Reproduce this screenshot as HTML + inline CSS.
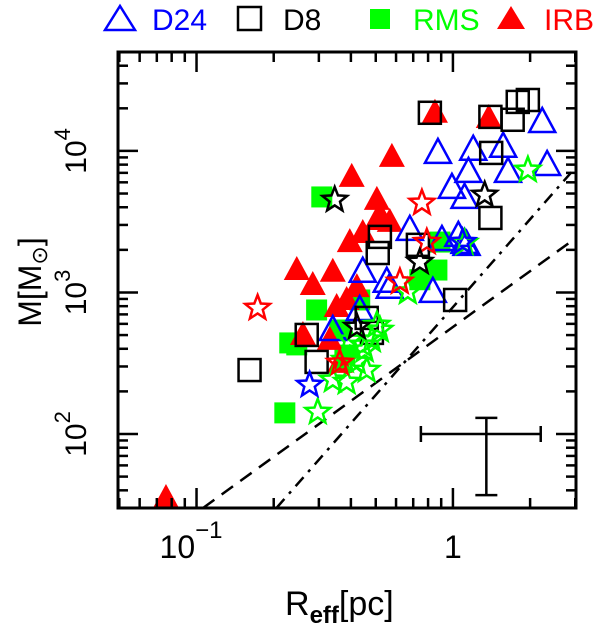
<!DOCTYPE html>
<html><head><meta charset="utf-8"><style>
body{margin:0;background:#fff;}
svg{display:block;font-family:"Liberation Sans",sans-serif;}
</style></head><body>
<svg id="chart" width="600" height="630" viewBox="0 0 600 630" xmlns="http://www.w3.org/2000/svg">
<defs><clipPath id="clip"><rect x="118" y="52" width="458" height="456"/></clipPath></defs>
<g id="legend">
  <g>
    <polygon points="105,30 120,6 135,30" fill="none" stroke="#0000ff" stroke-width="2.5"/>
    <text x="152" y="30" font-size="30" fill="#0000ff">D24</text>
  </g>
  <g>
    <rect x="238" y="7" width="23" height="23" fill="none" stroke="#000" stroke-width="2.5"/>
    <text x="283" y="30" font-size="30" fill="#000">D8</text>
  </g>
  <g>
    <rect x="370" y="9" width="20" height="20" fill="#00ff00"/>
    <text x="413" y="30" font-size="30" fill="#00ff00">RMS</text>
  </g>
  <g>
    <polygon points="497,29 511,6 525,29" fill="#ff0000"/>
    <text x="544" y="30" font-size="30" fill="#ff0000">IRB</text>
  </g>
</g>
<g id="marks" clip-path="url(#clip)"></g>
<g id="axes"></g>
<text x="285" y="615" font-size="34">R<tspan font-size="24" dy="8" font-weight="bold">eff</tspan><tspan dy="-8">[pc]</tspan></text>
<text transform="translate(41,282) rotate(-90)" text-anchor="middle" font-size="32">M[M<tspan font-size="22" dy="6">⊙</tspan><tspan dy="-6">]</tspan></text>
</svg>
<script>
// axis ranges
const xMin = 0.0494, xMax = 3.02, yMin = 30, yMax = 50000;
// D24 (blue open triangles)
const d24R = [0.874,1.20,1.57,2.23,2.33,1.64,1.15,0.991,1.11,0.679,0.906,1.05,1.13,0.445,0.835,1.11,0.567,0.340,0.433,0.552];
const d24M = [9680,10200,10700,16000,7960,7110,7110,5480,4660,2770,2350,2510,2170,1400,1010,2240,1080,543,752,1190];
const d24StarR = [0.276,1.09];
const d24StarM = [222,2270];
// D8 (black open squares)
const d8R = [0.813,1.40,1.71,1.79,1.96,1.41,1.40,0.509,0.519,0.730,1.02,0.269,0.294,0.461,0.483,0.161];
const d8M = [18600,17400,16600,22200,22900,9680,3360,1900,2470,2170,885,501,323,661,518,283];
const d8StarR = [0.346,0.743,1.33,0.422];
const d8StarM = [4510,1640,4890,570];
// RMS (green filled squares)
const rmsR = [0.308,0.294,0.246,0.221,0.231,0.866,0.890,0.743,0.379,0.433,0.362];
const rmsM = [4730,752,426,141,440,1440,2270,1230,361,885,543];
const rmsStarR = [0.297,0.385,0.340,0.396,0.453,0.483,0.519,0.422,0.461,0.379,0.667,1.96,0.505,1.11,0.445];
const rmsStarM = [143,233,241,462,393,462,543,323,283,333,1010,7340,589,2240,426];
// IRB (red filled triangles)
const irbR = [0.851,1.38,0.578,0.403,0.505,0.519,0.567,0.445,0.396,0.246,0.284,0.340,0.422,0.505,0.352,0.385,0.260,0.331,0.362,0.076];
const irbM = [18600,17100,9080,6550,4510,3530,3150,2630,2270,1440,1130,1400,1090,3250,790,885,501,462,318,35.3];
const irbStarR = [0.173,0.757,0.791,0.621,0.362];
const irbStarM = [777,4290,2270,1190,318];
// reference lines (endpoints)
const dashR = [0.106,3.02], dashM = [30,2430];
const dotDashR = [0.205,3.02], dotDashM = [30,7700];
// error bar (center and extents)
const errR = [0.75,1.35,2.2], errM = [37,100,130];

const L=118,R=576,T=52,B=508;
const X = v => L + (Math.log10(v)-Math.log10(xMin))/(Math.log10(xMax)-Math.log10(xMin))*(R-L);
const Y = v => B - (Math.log10(v)-Math.log10(yMin))/(Math.log10(yMax)-Math.log10(yMin))*(B-T);
const NS='http://www.w3.org/2000/svg';
const marks=document.getElementById('marks'), axes=document.getElementById('axes');
function mk(tag, parent, attrs){const e=document.createElementNS(NS,tag);for(const k in attrs)e.setAttribute(k,attrs[k]);parent.appendChild(e);return e;}

// reference lines
let ln=mk('line',marks,{x1:X(dashR[0]),y1:Y(dashM[0]),x2:X(dashR[1]),y2:Y(dashM[1]),stroke:'#000','stroke-width':2.5,'stroke-dasharray':'14,9'});


ln=mk('line',marks,{x1:X(dotDashR[0]),y1:Y(dotDashM[0]),x2:X(dotDashR[1]),y2:Y(dotDashM[1]),stroke:'#000','stroke-width':2.5,'stroke-dasharray':'12,7,3,7'});



function tri(cx,cy,color,fill,name){
  const h=12,w=13;
  const p=mk('polygon',marks,{points:`${cx-w},${cy+h-2} ${cx},${cy-h-2} ${cx+w},${cy+h-2}`,fill:fill?color:'none',stroke:color,'stroke-width':fill?0:2.5});
  
  
}
function sq(cx,cy,color,fill,name,s){
  const r=mk('rect',marks,{x:cx-s/2,y:cy-s/2,width:s,height:s,fill:fill?color:'none',stroke:fill?'none':color,'stroke-width':2.5});
  
  
}
function star(cx,cy,color,name){
  let pts=[];for(let i=0;i<10;i++){const a=-Math.PI/2+i*Math.PI/5;const r=i%2?5.5:13;pts.push((cx+r*Math.cos(a)).toFixed(1)+','+(cy+r*Math.sin(a)).toFixed(1));}
  const p=mk('polygon',marks,{points:pts.join(' '),fill:'none',stroke:color,'stroke-width':2.5});
  
  
}
rmsR.forEach((r,i)=>sq(X(r),Y(rmsM[i]),'#00ff00',true,'rms-point',21));
irbR.forEach((r,i)=>tri(X(r),Y(irbM[i]),'#ff0000',true,'irb-point'));
d24R.forEach((r,i)=>tri(X(r),Y(d24M[i]),'#0000ff',false,'d24-point'));
d8R.forEach((r,i)=>sq(X(r),Y(d8M[i]),'#000',false,'d8-point',22));
rmsStarR.forEach((r,i)=>star(X(r),Y(rmsStarM[i]),'#00ff00','rms-star'));
d24StarR.forEach((r,i)=>star(X(r),Y(d24StarM[i]),'#0000ff','d24-star'));
irbStarR.forEach((r,i)=>star(X(r),Y(irbStarM[i]),'#ff0000','irb-star'));
d8StarR.forEach((r,i)=>star(X(r),Y(d8StarM[i]),'#000','d8-star'));

// error bar
const eg=mk('g',marks,{stroke:'#000','stroke-width':2.5});


const ex=X(errR[1]), ey=Y(errM[1]);
mk('line',eg,{x1:X(errR[0]),y1:ey,x2:X(errR[2]),y2:ey});
mk('line',eg,{x1:X(errR[0]),y1:ey-8,x2:X(errR[0]),y2:ey+8});
mk('line',eg,{x1:X(errR[2]),y1:ey-8,x2:X(errR[2]),y2:ey+8});
mk('line',eg,{x1:ex,y1:Y(errM[0]),x2:ex,y2:Y(errM[2])});
mk('line',eg,{x1:ex-11,y1:Y(errM[0]),x2:ex+11,y2:Y(errM[0])});
mk('line',eg,{x1:ex-11,y1:Y(errM[2]),x2:ex+11,y2:Y(errM[2])});

// frame
const fr=mk('rect',axes,{x:L,y:T,width:R-L,height:B-T,fill:'none',stroke:'#000','stroke-width':3});


// x ticks
const xMajor=[0.1,1];
for(let d=0.01;d<10;d*=10){for(let k=1;k<10;k++){const v=d*k;if(v<xMin||v>xMax)continue;const x=X(v);const len=k===1?20:10;
  mk('line',axes,{x1:x,y1:B,x2:x,y2:B-len,stroke:'#000','stroke-width':2.5});
  mk('line',axes,{x1:x,y1:T,x2:x,y2:T+len,stroke:'#000','stroke-width':2.5});}}
for(let d=10;d<1e5;d*=10){for(let k=1;k<10;k++){const v=d*k;if(v<yMin||v>yMax)continue;const y=Y(v);const len=k===1?20:10;
  mk('line',axes,{x1:L,y1:y,x2:L+len,y2:y,stroke:'#000','stroke-width':2.5});
  mk('line',axes,{x1:R,y1:y,x2:R-len,y2:y,stroke:'#000','stroke-width':2.5});}}
// x tick labels
let t=mk('text',axes,{x:X(0.1)-37,y:558,'font-size':32});
t.innerHTML='10<tspan dy="-20" font-size="24">−1</tspan>';


t=mk('text',axes,{x:X(1),y:558,'font-size':32,'text-anchor':'middle'});
t.textContent='1';


// y tick labels
const yTickVals=[100,1000,10000], yTickExp=['2','3','4'];
yTickVals.forEach((v,i)=>{
  const g=mk('text',axes,{transform:`translate(86,${Y(v)}) rotate(-90)`,'text-anchor':'middle','font-size':30});
  g.innerHTML='10<tspan dy="-16" font-size="22">'+yTickExp[i]+'</tspan>';
  
  
});
</script>
</body></html>
